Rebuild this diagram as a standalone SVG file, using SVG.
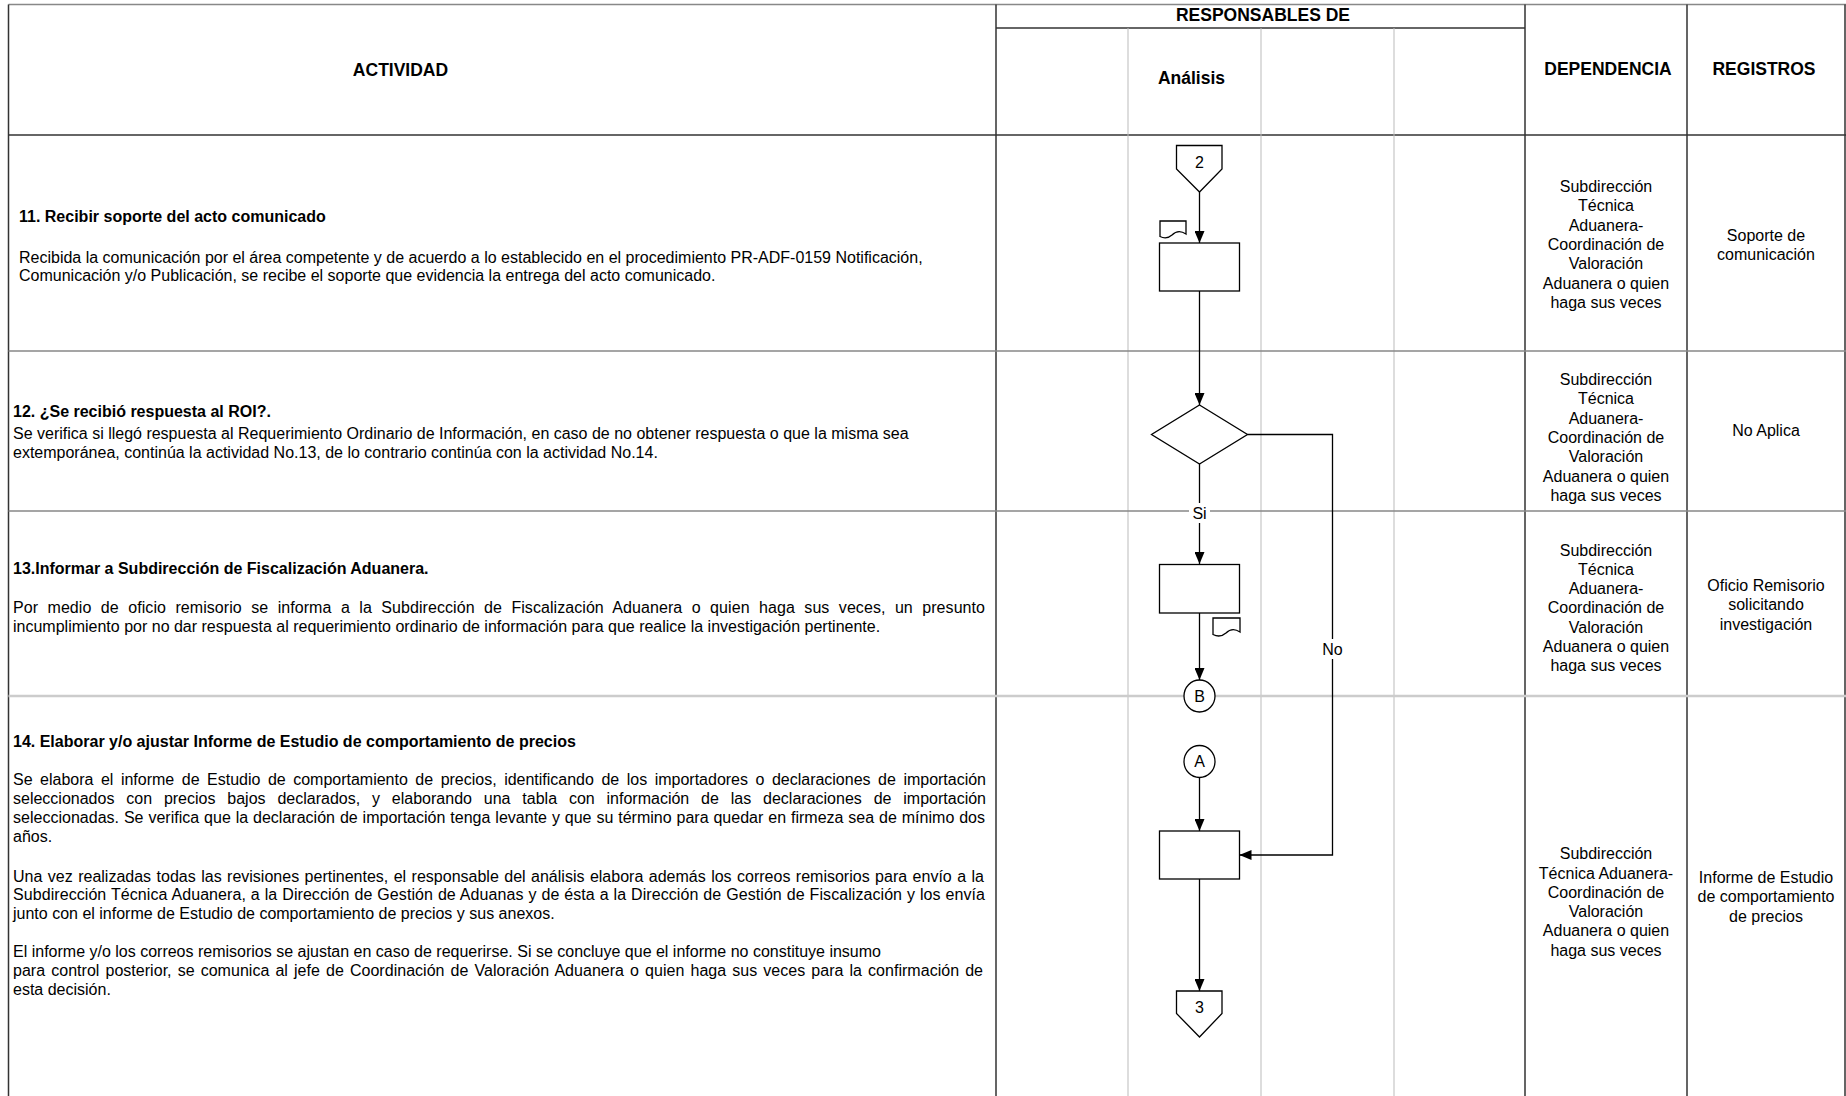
<svg xmlns="http://www.w3.org/2000/svg" width="1846" height="1096" viewBox="0 0 1846 1096">
<defs>
<style>
.t{font-family:"Liberation Sans",Arial,sans-serif;font-size:16px;fill:#000}
.b{font-weight:bold}
.h{font-family:"Liberation Sans",Arial,sans-serif;font-size:17.5px;font-weight:bold;fill:#000;text-anchor:middle}
.c{text-anchor:middle}
.gd{stroke:#333;stroke-width:1.5;fill:none}
.gm{stroke:#888;stroke-width:1.5;fill:none}
.gl{stroke:#bbb;stroke-width:1;fill:none}
.sh{fill:#fff;stroke:#000;stroke-width:1.3}
.cn{fill:none;stroke:#000;stroke-width:1.3}
.lb{fill:#fff;stroke:none}
</style>
<marker id="arr" viewBox="0 0 12 10" refX="12" refY="5" markerWidth="12" markerHeight="10" markerUnits="userSpaceOnUse" orient="auto"><path d="M0,0 L12,5 L0,10 z" fill="#000"/></marker>
</defs>
<rect x="0" y="0" width="1846" height="1096" fill="#fff"/>

<g id="grid">
<path class="gm" d="M8.5 4.5 H1846"/>
<path class="gd" d="M8.5 4.5 V1096"/>
<path class="gd" d="M8.5 135 H1846"/>
<path class="gd" d="M996 28 H1525"/>
<path class="gd" d="M996 4.5 V1096 M1525 4.5 V1096 M1687 4.5 V1096 M1845 4.5 V1096"/>
<path class="gl" d="M1128 28 V1096 M1261 28 V1096 M1394 28 V1096"/>
<path class="gm" d="M8.5 351 H1846 M8.5 511 H1846"/>
<path stroke="#ccc" stroke-width="2.5" fill="none" d="M8.5 696 H1846"/>
</g>

<g id="headers">
<text class="h" x="400.5" y="76">ACTIVIDAD</text>
<text class="h" x="1263" y="21">RESPONSABLES DE</text>
<text class="h" x="1191.5" y="84">Análisis</text>
<text class="h" x="1608" y="74.5">DEPENDENCIA</text>
<text class="h" x="1764" y="74.5">REGISTROS</text>
</g>

<g id="activity11">
<text class="t b" x="19" y="222">11. Recibir soporte del acto comunicado</text>
<text class="t" x="19" y="262.5">Recibida la comunicación por el área competente y de acuerdo a lo establecido en el procedimiento PR-ADF-0159 Notificación,</text>
<text class="t" x="19" y="281">Comunicación y/o Publicación, se recibe el soporte que evidencia la entrega del acto comunicado.</text>
</g>
<g id="activity12">
<text class="t b" x="13" y="417">12. ¿Se recibió respuesta al ROI?.</text>
<text class="t" x="13" y="438.5">Se verifica si llegó respuesta al Requerimiento Ordinario de Información, en caso de no obtener respuesta o que la misma sea</text>
<text class="t" x="13" y="457.5">extemporánea, continúa la actividad No.13, de lo contrario continúa con la actividad No.14.</text>
</g>
<g id="activity13">
<text class="t b" x="13" y="573.5">13.Informar a Subdirección de Fiscalización Aduanera.</text>
<text class="t" x="13" y="612.5" style="word-spacing:4.9px" textLength="972" lengthAdjust="spacing">Por medio de oficio remisorio se informa a la Subdirección de Fiscalización Aduanera o quien haga sus veces, un presunto</text>
<text class="t" x="13" y="631.5">incumplimiento por no dar respuesta al requerimiento ordinario de información para que realice la investigación pertinente.</text>
</g>
<g id="activity14">
<text class="t b" x="13" y="747">14. Elaborar y/o ajustar Informe de Estudio de comportamiento de precios</text>
<text class="t" x="13" y="784.5" style="word-spacing:3.1px" textLength="973" lengthAdjust="spacing">Se elabora el informe de Estudio de comportamiento de precios, identificando de los importadores o declaraciones de importación</text>
<text class="t" x="13" y="803.5" style="word-spacing:7.4px" textLength="973" lengthAdjust="spacing">seleccionados con precios bajos declarados, y elaborando una tabla con información de las declaraciones de importación</text>
<text class="t" x="13" y="822.5" style="word-spacing:0.4px" textLength="972" lengthAdjust="spacing">seleccionadas. Se verifica que la declaración de importación tenga levante y que su término para quedar en firmeza sea de mínimo dos</text>
<text class="t" x="13" y="841.5">años.</text>
<text class="t" x="13" y="881.5" style="word-spacing:1px" textLength="971" lengthAdjust="spacing">Una vez realizadas todas las revisiones pertinentes, el responsable del análisis elabora además los correos remisorios para envío a la</text>
<text class="t" x="13" y="900" style="word-spacing:0.4px" textLength="972" lengthAdjust="spacing">Subdirección Técnica Aduanera, a la Dirección de Gestión de Aduanas y de ésta a la Dirección de Gestión de Fiscalización y los envía</text>
<text class="t" x="13" y="919">junto con el informe de Estudio de comportamiento de precios y sus anexos.</text>
<text class="t" x="13" y="957">El informe y/o los correos remisorios se ajustan en caso de requerirse. Si se concluye que el informe no constituye insumo</text>
<text class="t" x="13" y="975.5" style="word-spacing:1.6px" textLength="970" lengthAdjust="spacing">para control posterior, se comunica al jefe de Coordinación de Valoración Aduanera o quien haga sus veces para la confirmación de</text>
<text class="t" x="13" y="994.5">esta decisión.</text>
</g>

<g id="dependencia">
<text class="t c" x="1606"><tspan x="1606" y="192">Subdirección</tspan><tspan x="1606" y="211.3">Técnica</tspan><tspan x="1606" y="230.6">Aduanera-</tspan><tspan x="1606" y="249.9">Coordinación de</tspan><tspan x="1606" y="269.2">Valoración</tspan><tspan x="1606" y="288.5">Aduanera o quien</tspan><tspan x="1606" y="307.8">haga sus veces</tspan></text>
<text class="t c" x="1606"><tspan x="1606" y="385">Subdirección</tspan><tspan x="1606" y="404.3">Técnica</tspan><tspan x="1606" y="423.6">Aduanera-</tspan><tspan x="1606" y="442.9">Coordinación de</tspan><tspan x="1606" y="462.2">Valoración</tspan><tspan x="1606" y="481.5">Aduanera o quien</tspan><tspan x="1606" y="500.8">haga sus veces</tspan></text>
<text class="t c" x="1606"><tspan x="1606" y="555.5">Subdirección</tspan><tspan x="1606" y="574.8">Técnica</tspan><tspan x="1606" y="594.1">Aduanera-</tspan><tspan x="1606" y="613.4">Coordinación de</tspan><tspan x="1606" y="632.7">Valoración</tspan><tspan x="1606" y="652">Aduanera o quien</tspan><tspan x="1606" y="671.3">haga sus veces</tspan></text>
<text class="t c" x="1606"><tspan x="1606" y="859.2">Subdirección</tspan><tspan x="1606" y="878.5">Técnica Aduanera-</tspan><tspan x="1606" y="897.8">Coordinación de</tspan><tspan x="1606" y="917.1">Valoración</tspan><tspan x="1606" y="936.4">Aduanera o quien</tspan><tspan x="1606" y="955.7">haga sus veces</tspan></text>
</g>

<g id="registros">
<text class="t c" x="1766"><tspan x="1766" y="241">Soporte de</tspan><tspan x="1766" y="260">comunicación</tspan></text>
<text class="t c" x="1766" y="435.5">No Aplica</text>
<text class="t c" x="1766"><tspan x="1766" y="591">Oficio Remisorio</tspan><tspan x="1766" y="610.3">solicitando</tspan><tspan x="1766" y="629.6">investigación</tspan></text>
<text class="t c" x="1766"><tspan x="1766" y="883">Informe de Estudio</tspan><tspan x="1766" y="902.3">de comportamiento</tspan><tspan x="1766" y="921.6">de precios</tspan></text>
</g>

<g id="connectors">
<path class="cn" d="M1199.5 192 V243" marker-end="url(#arr)"/>
<path class="cn" d="M1199.5 291 V405" marker-end="url(#arr)"/>
<path class="cn" d="M1199.5 464 V564" marker-end="url(#arr)"/>
<path class="cn" d="M1199.5 613 V680" marker-end="url(#arr)"/>
<path class="cn" d="M1247.5 434.5 H1332.5 V855 H1239.5" marker-end="url(#arr)"/>
<path class="cn" d="M1199.5 777.5 V831" marker-end="url(#arr)"/>
<path class="cn" d="M1199.5 879 V991" marker-end="url(#arr)"/>
<rect class="lb" x="1189" y="503" width="21" height="20"/>
<text class="t c" x="1199.5" y="519">Si</text>
<rect class="lb" x="1320" y="639" width="25" height="20"/>
<text class="t c" x="1332.5" y="655">No</text>
</g>

<g id="n-connector2">
<path class="sh" d="M1176.5 145.5 H1222 V169 L1199.5 192 L1176.5 169 Z"/>
<text class="t c" x="1199.5" y="168">2</text>
</g>
<g id="n-doc1">
<path class="sh" d="M1160 221 H1186 V234 C1180 230 1175 232 1172 235 C1168 238.5 1164 238.5 1160 236.5 Z" stroke-width="1"/>
</g>
<g id="n-box1"><rect class="sh" x="1159.5" y="243" width="80" height="48"/></g>
<g id="n-decision"><path class="sh" d="M1199.5 405 L1247.5 434.5 L1199.5 464 L1151.5 434.5 Z"/></g>
<g id="n-box2"><rect class="sh" x="1159.5" y="564.5" width="80" height="48.5"/></g>
<g id="n-doc2">
<path class="sh" d="M1213 618 H1240 V632 C1234 628 1229 630 1226 633 C1222 636.5 1217 636.5 1213 634.5 Z" stroke-width="1"/>
</g>
<g id="n-B">
<ellipse class="sh" cx="1199.5" cy="696" rx="15.5" ry="16"/>
<text class="t c" x="1199.5" y="701.5">B</text>
</g>
<g id="n-A">
<ellipse class="sh" cx="1199.5" cy="761.5" rx="15.5" ry="16"/>
<text class="t c" x="1199.5" y="767">A</text>
</g>
<g id="n-box3"><rect class="sh" x="1159.5" y="831" width="80" height="48"/></g>
<g id="n-connector3">
<path class="sh" d="M1176.5 991 H1222 V1013.5 L1199.5 1037 L1176.5 1013.5 Z"/>
<text class="t c" x="1199.5" y="1013">3</text>
</g>
</svg>
